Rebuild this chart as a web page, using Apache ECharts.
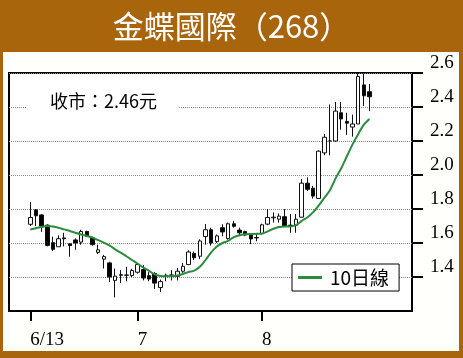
<!DOCTYPE html>
<html><head><meta charset="utf-8">
<script src="https://cdn.jsdelivr.net/npm/echarts@6/dist/echarts.min.js"></script>
<style>
html,body{margin:0;padding:0;background:#A8650C;width:463px;height:358px;overflow:hidden;}
#panel{position:absolute;left:3px;top:52px;width:456px;height:299px;background:#FFFFFC;}
#c{position:absolute;left:0;top:0;width:463px;height:358px;}
</style>
</head><body><div id="panel"></div><div id="c"></div>
<script>
// Daily candles (index 0 = 6/13)
const openV  = [1.71,1.795,1.765,1.705,1.602,1.578,1.63,1.595,1.618,1.605,1.668,1.63,1.545,1.505,1.483,1.38,1.413,1.412,1.408,1.428,1.444,1.408,1.42,1.338,1.41,1.412,1.404,1.434,1.473,1.539,1.522,1.638,1.678,1.608,1.69,1.626,1.713,1.676,1.667,1.647,1.632,1.655,1.711,1.748,1.74,1.755,1.705,1.705,1.752,1.952,1.922,1.862,2.13,2.20,2.20,2.366,2.315,2.282,2.30,2.53,2.49];
const closeV = [1.75,1.76,1.70,1.586,1.563,1.625,1.625,1.585,1.60,1.668,1.64,1.59,1.56,1.52,1.40,1.405,1.41,1.41,1.438,1.473,1.394,1.388,1.364,1.373,1.408,1.41,1.434,1.463,1.547,1.513,1.612,1.678,1.60,1.642,1.665,1.713,1.698,1.66,1.647,1.624,1.63,1.707,1.75,1.752,1.758,1.697,1.703,1.74,1.952,1.916,1.876,2.14,2.222,2.20,2.376,2.33,2.305,2.30,2.58,2.466,2.46];
const lowV   = [1.70,1.70,1.665,1.58,1.553,1.578,1.58,1.52,1.56,1.59,1.635,1.585,1.535,1.45,1.37,1.28,1.365,1.375,1.40,1.42,1.38,1.375,1.33,1.312,1.375,1.38,1.38,1.424,1.47,1.50,1.505,1.59,1.585,1.60,1.64,1.62,1.69,1.64,1.64,1.593,1.61,1.65,1.705,1.72,1.72,1.695,1.66,1.66,1.75,1.906,1.862,1.86,2.116,2.116,2.196,2.266,2.236,2.226,2.30,2.406,2.376];
const highV  = [1.84,1.80,1.77,1.71,1.637,1.645,1.66,1.595,1.627,1.678,1.672,1.635,1.59,1.53,1.49,1.45,1.44,1.46,1.448,1.48,1.47,1.43,1.428,1.385,1.42,1.44,1.453,1.483,1.557,1.55,1.622,1.712,1.69,1.65,1.71,1.72,1.73,1.69,1.672,1.652,1.652,1.713,1.80,1.78,1.774,1.80,1.77,1.77,1.976,1.986,1.936,2.145,2.242,2.415,2.43,2.43,2.366,2.355,2.60,2.596,2.536];
// 10-day moving average
const ma10   = [1.68,1.687,1.694,1.70,1.697,1.69,1.68,1.671,1.66,1.65,1.641,1.632,1.617,1.602,1.586,1.563,1.543,1.522,1.50,1.478,1.455,1.436,1.415,1.406,1.404,1.404,1.409,1.418,1.43,1.438,1.46,1.50,1.545,1.58,1.60,1.612,1.635,1.646,1.651,1.653,1.654,1.656,1.668,1.684,1.694,1.697,1.697,1.705,1.73,1.75,1.78,1.82,1.865,1.91,1.98,2.04,2.11,2.18,2.24,2.296,2.33];
const xTickIdx = [0,19,41];
const xTickLabels = ['6/13','7','8'];
const yTicks = [1.4,1.6,1.8,2.0,2.2,2.4,2.6];
const titleText = '金蝶國際（268）';
const noteText = '收市：2.46元';
const maName = '10日線';

const candles = openV.map((o,i)=>[i,o,closeV[i],lowV[i],highV[i]]);
const maData = ma10.map((v,i)=>[i,v]);

const chart = echarts.init(document.getElementById('c'), null, {renderer:'canvas'});
const cjk = '"Noto Sans CJK TC","Noto Sans CJK SC",sans-serif';
const serif = '"Liberation Serif","DejaVu Serif",serif';
chart.setOption({
  backgroundColor:'transparent',
  animation:false,
  title:{text:titleText,left:'center',top:6,textStyle:{color:'#fff',fontSize:31,fontWeight:'normal',fontFamily:cjk}},
  grid:{left:9,top:73,width:403,height:238,show:true,borderColor:'#000',borderWidth:2,backgroundColor:'#fff'},
  legend:{data:[{name:maName,icon:'rect'}],left:292,top:264,backgroundColor:'#fff',borderColor:'#000',borderWidth:1,
    padding:[3,10,3,6],itemWidth:24,itemHeight:3,
    textStyle:{fontSize:19,color:'#000',fontFamily:cjk,padding:[0,0,0,3],lineHeight:21}},
  xAxis:{type:'value',min:-3.768,max:67.52,
    axisLine:{show:false,onZero:false},
    splitLine:{show:false},
    axisTick:{show:true,customValues:xTickIdx,length:10,lineStyle:{color:'#000',width:2}},
    axisLabel:{customValues:xTickIdx,formatter:v=>{const k=xTickIdx.indexOf(v);return k<0?'':xTickLabels[k];},
      align:'left',margin:20,fontSize:19,color:'#000',fontFamily:serif}},
  yAxis:{type:'value',position:'right',min:1.2,max:2.6,interval:0.2,
    axisLine:{show:false,onZero:false},
    splitLine:{show:true,lineStyle:{type:'dotted',color:'#8a8a8a',width:1}},
    axisTick:{show:true,customValues:yTicks,length:11,lineStyle:{color:'#000',width:2}},
    axisLabel:{customValues:yTicks,formatter:v=>v.toFixed(1),margin:18,fontSize:19,color:'#000',fontFamily:serif,verticalAlign:'bottom'}},
  graphic:[{type:'text',left:27,top:90,z:100,
    style:{text:noteText,fontSize:18,fill:'#000',fontFamily:cjk,backgroundColor:'#fff',padding:[2,22,2,23]}}],
  series:[
    {type:'candlestick',data:candles,barWidth:4,
      itemStyle:{color:'#fff',color0:'#000',borderColor:'#111',borderColor0:'#111',borderWidth:1}},
    {type:'line',name:maName,data:maData,showSymbol:false,symbol:'none',smooth:0.3,
      lineStyle:{color:'#2B8C3C',width:2},itemStyle:{color:'#2B8C3C'}}
  ]
});
</script></body></html>
